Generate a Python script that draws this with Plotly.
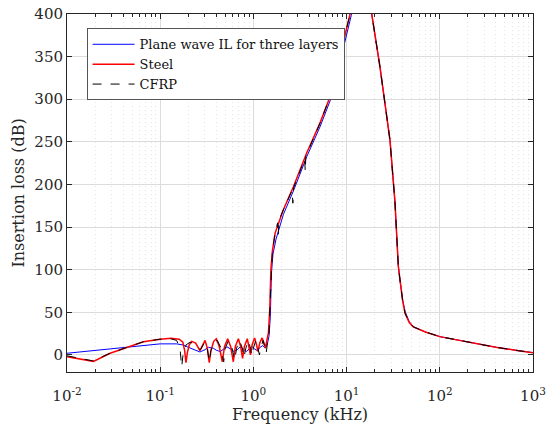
import plotly.graph_objects as go

# ---- data (frequency in kHz, insertion loss in dB) ----
f_plane = [0.01, 0.03, 0.1, 0.15, 0.18, 0.2, 0.23, 0.267, 0.3, 0.33, 0.37, 0.4, 0.44, 0.48,
           0.52, 0.57, 0.62, 0.67, 0.72, 0.78, 0.84, 0.9, 0.96, 1.03, 1.1, 1.18, 1.26, 1.34,
           1.42, 1.47, 1.52, 1.56, 1.62, 1.75, 2.1, 2.7, 3.75, 5.2, 6.7, 8.6, 11.2, 14.0,
           18.6, 22.8, 29.2, 33.0, 35.9, 37.4, 40.0, 42.4, 47.0, 52.0, 70.0, 100.0, 200.0,
           400.0, 700.0, 1000.0]
il_plane = [2, 7.5, 13, 13, 11.5, 9, 6, 3.5, 6, 9, 8, 5.5, 4, 7,
            9.5, 7, 4, 6, 9.5, 7, 4, 7, 10, 7, 5, 9, 11, 8,
            14, 22, 45, 95, 118, 136, 165, 193, 233, 268, 299, 346, 398, 470,
            400, 338, 252, 180, 104, 88, 64, 51, 39, 33, 27, 21.5, 15,
            9, 5, 2.7]

f_steel = [0.01, 0.0192, 0.029, 0.0437, 0.066, 0.1, 0.13, 0.16, 0.175, 0.183, 0.189, 0.196,
           0.205, 0.218, 0.24, 0.267, 0.29, 0.303, 0.32, 0.336, 0.35, 0.375, 0.4, 0.43,
           0.464, 0.49, 0.53, 0.57, 0.609, 0.64, 0.69, 0.73, 0.765, 0.8, 0.86, 0.9, 0.93,
           0.97, 1.03, 1.08, 1.12, 1.17, 1.24, 1.3, 1.35, 1.4, 1.45, 1.5, 1.54, 1.6, 1.71,
           2.09, 2.68, 3.73, 5.18, 6.64, 8.49, 10.9, 14.0, 18.6, 22.8, 29.2, 33.0, 35.9,
           37.4, 40.0, 42.4, 47.0, 52.0, 70.0, 100.0, 200.0, 400.0, 700.0, 1000.0]
il_steel = [-2, -7.5, 2, 9, 15.5, 18.5, 19.5, 18.5, 15, 5, -9, 3,
            12, 16, 14, 5, 12, 17, 8, -9, 5, 16, 19, 10,
            -8, 10, 19, 10, -8, 10, 19, 10, -4, 10, 19, 10, 0,
            12, 20, 12, 4, 14, 20, 14, 8, 18, 26, 55, 100, 122, 143,
            170, 197, 237, 272, 303, 350, 400, 470, 400, 338, 252, 180, 104,
            88, 63, 49, 38, 33, 27, 21.5, 15, 9, 5, 2.7]

f_cfrp = [0.01, 0.019, 0.029, 0.044, 0.066, 0.1, 0.13, 0.15, 0.163, 0.17, 0.177, 0.19,
          0.21, 0.24, 0.27, 0.3, 0.32, 0.336, 0.35, 0.38, 0.41, 0.45, 0.48, 0.5, 0.54,
          0.59, 0.63, 0.66, 0.71, 0.76, 0.79, 0.83, 0.88, 0.93, 0.96, 1.0, 1.06, 1.12,
          1.16, 1.2, 1.27, 1.33, 1.37, 1.42, 1.47, 1.51, 1.55, 1.6, 1.71, 1.82, 1.85,
          1.88, 2.09, 2.6, 2.65, 2.7, 3.55, 3.6, 3.65, 5.18, 6.64, 8.49, 10.9, 14.0,
          18.6, 22.8, 29.2, 33.0, 35.9, 37.4, 40.0, 42.4, 47.0, 52.0, 70.0, 100.0,
          200.0, 400.0, 700.0, 1000.0]
il_cfrp = [-1, -7, 2, 9, 15.5, 18.5, 19, 17, 8, -14, 3, 12,
           15, 12, 6, 15, 8, -8, 5, 16, 17, 8, -8, 8, 17,
           8, -6, 8, 17, 8, -3, 8, 17, 8, -1, 8, 17, 8,
           0, 8, 17, 8, 2, 15, 25, 60, 100, 122, 143, 155, 140,
           158, 170, 193, 178, 196, 230, 215, 233, 272, 303, 350, 400, 470,
           400, 338, 252, 180, 104, 88, 63, 49, 38, 33, 27, 21.5,
           15, 9, 5, 2.7]

x_tickvals = [0.01, 0.1, 1, 10, 100, 1000]
x_ticktext = ["10<sup>-2</sup>", "10<sup>-1</sup>", "10<sup>0</sup>",
              "10<sup>1</sup>", "10<sup>2</sup>", "10<sup>3</sup>"]
y_tickvals = [0, 50, 100, 150, 200, 250, 300, 350, 400]

minor_vals = [m * d for d in [0.01, 0.1, 1, 10, 100] for m in range(2, 10)]

FONT = "DejaVu Serif"
TXT = "#262626"

fig = go.Figure()
fig.add_trace(go.Scatter(x=f_plane, y=il_plane, mode="lines",
                         name="Plane wave IL for three layers",
                         line=dict(color="#0000ff", width=1)))
fig.add_trace(go.Scatter(x=f_steel, y=il_steel, mode="lines", name="Steel",
                         line=dict(color="#ff0000", width=1.5)))
fig.add_trace(go.Scatter(x=f_cfrp, y=il_cfrp, mode="lines", name="CFRP",
                         line=dict(color="#000000", width=1, dash="dash")))

fig.update_layout(
    width=547, height=435,
    margin=dict(l=67, r=14, t=14, b=63, autoexpand=False),
    paper_bgcolor="white", plot_bgcolor="white",
    font=dict(family=FONT, color=TXT, size=15),
    showlegend=True,
    legend=dict(x=0.042, y=0.96, xanchor="left", yanchor="top",
                bgcolor="white", bordercolor="#555555", borderwidth=1,
                font=dict(family=FONT, size=13, color="#111111"),
                itemwidth=42, tracegroupgap=0),
)
fig.update_xaxes(
    type="log", range=[-2, 3], automargin=False,
    tickmode="array", tickvals=x_tickvals, ticktext=x_ticktext,
    ticks="inside", ticklen=5, tickcolor="#262626", ticklabelstandoff=10,
    showline=True, linecolor="#262626", linewidth=1, mirror="allticks",
    showgrid=True, gridcolor="#dcdcdc", gridwidth=1,
    zeroline=False,
    minor=dict(tickmode="array", tickvals=minor_vals, ticks="inside", ticklen=3,
               tickcolor="#262626", showgrid=True, gridcolor="#e4e4e4",
               griddash="1px,3px", gridwidth=1),
    title=dict(text="Frequency (kHz)", font=dict(size=16, family=FONT, color=TXT),
               standoff=3),
    tickfont=dict(size=15, family=FONT, color=TXT),
)
fig.update_yaxes(
    range=[-20, 400], automargin=False,
    tickmode="array", tickvals=y_tickvals,
    ticks="inside", ticklen=5, tickcolor="#262626",
    showline=True, linecolor="#262626", linewidth=1, mirror="allticks",
    showgrid=True, gridcolor="#dcdcdc", gridwidth=1,
    zeroline=False,
    title=dict(text="Insertion loss (dB)", font=dict(size=16, family=FONT, color=TXT),
               standoff=5),
    tickfont=dict(size=15, family=FONT, color=TXT),
)

fig.write_html("out.html")
